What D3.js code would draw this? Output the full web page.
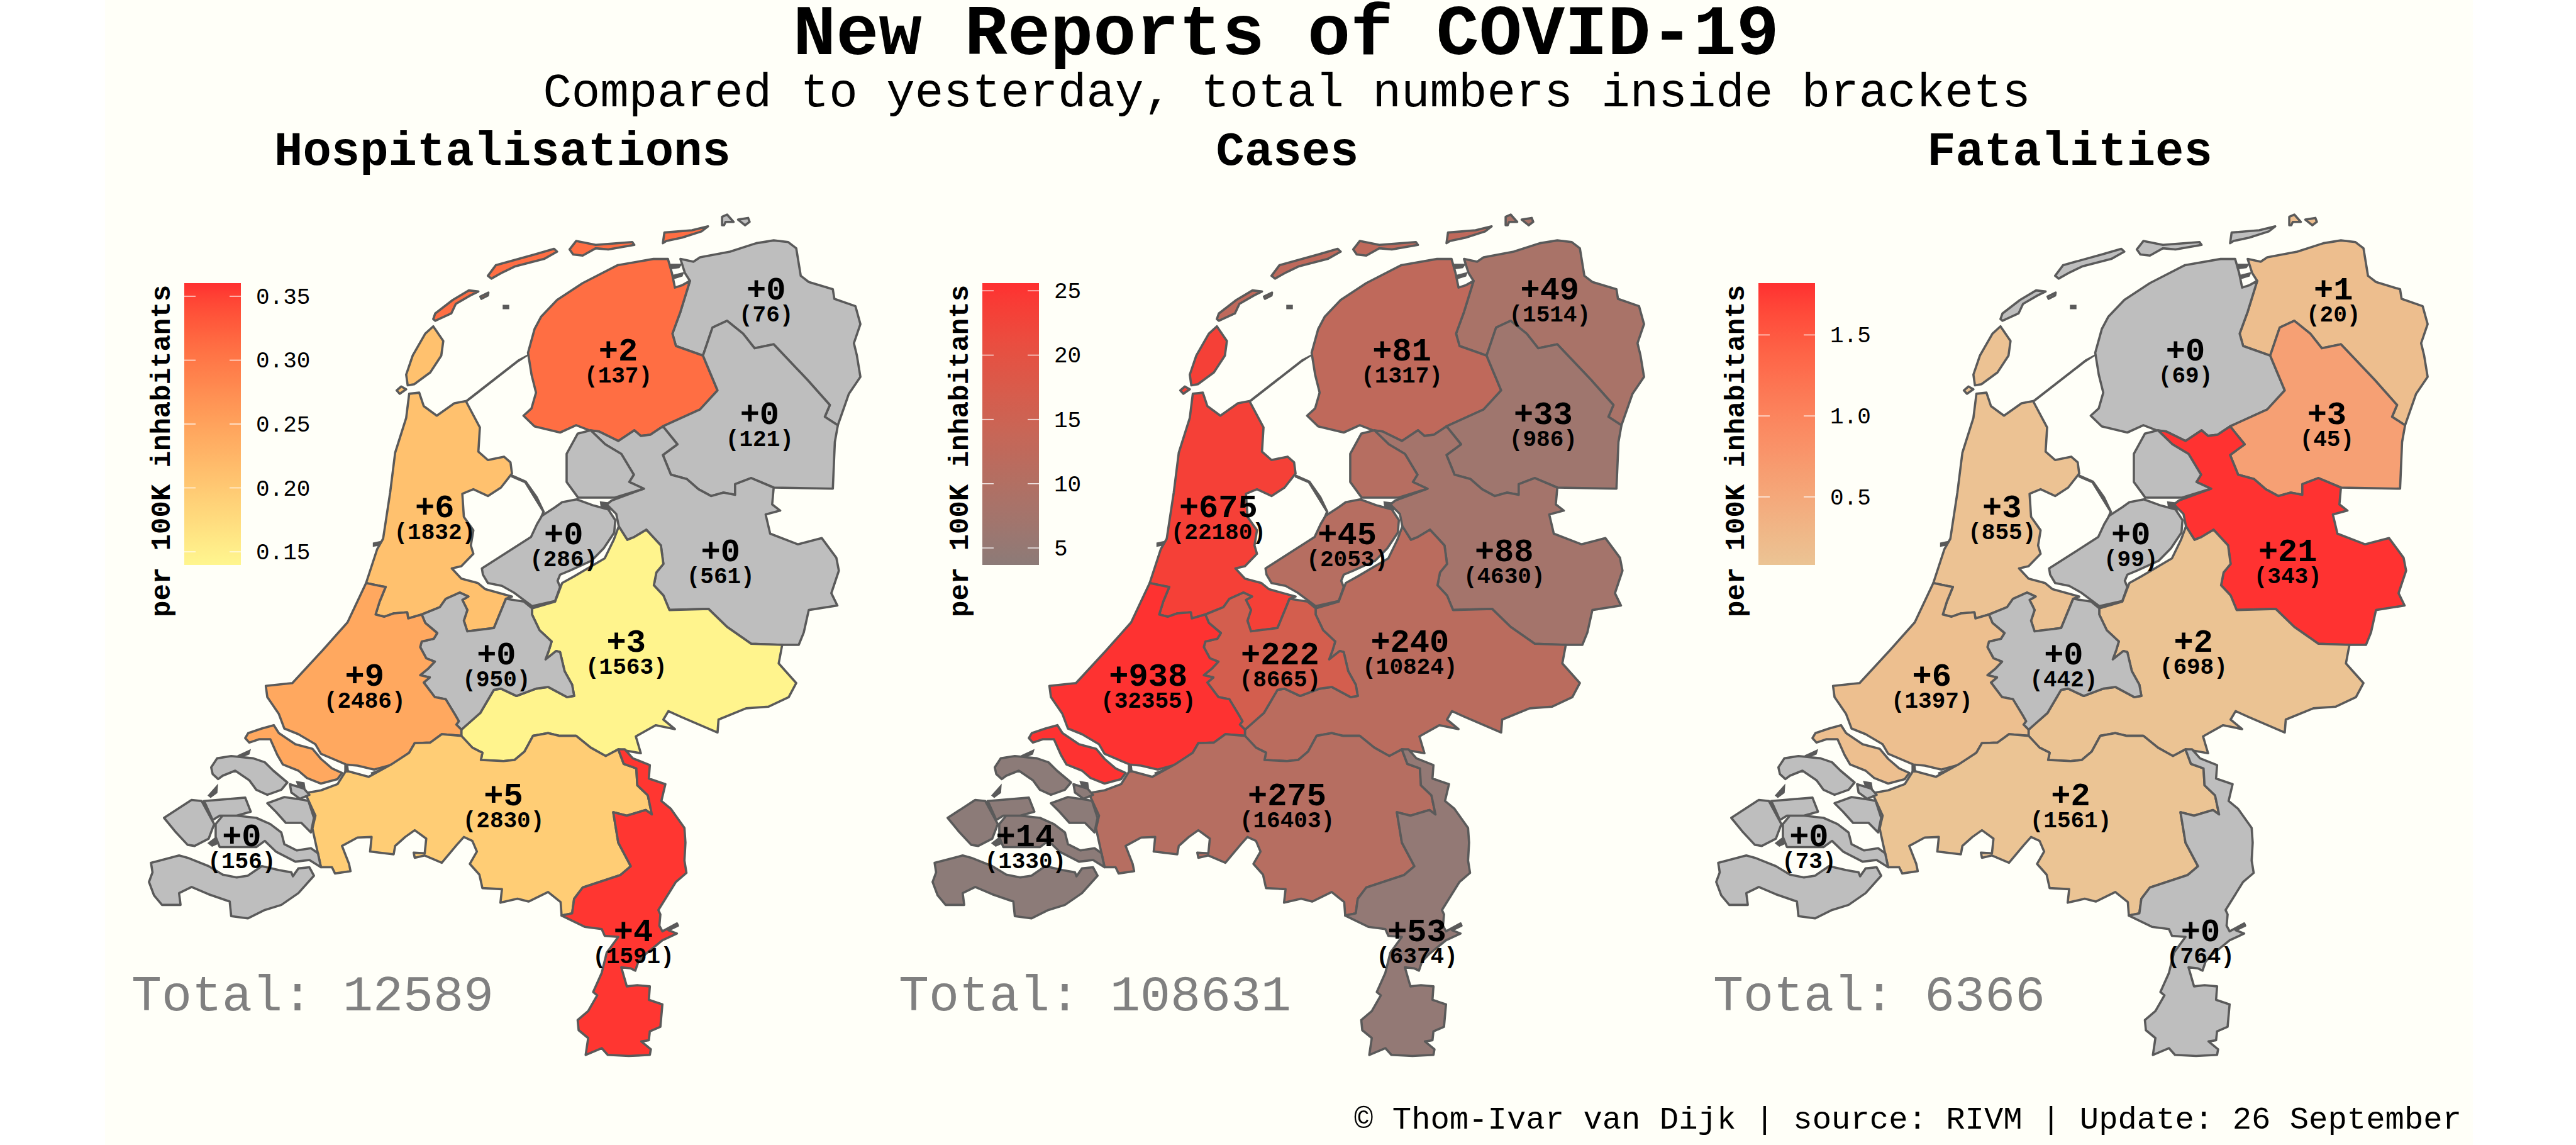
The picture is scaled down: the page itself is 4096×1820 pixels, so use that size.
<!DOCTYPE html>
<html>
<head>
<meta charset="utf-8">
<script src="https://cdn.jsdelivr.net/npm/d3@7"></script>
<style>
  html, body { margin: 0; padding: 0; background: #fff; }
  text { font-family: "Liberation Mono", monospace; fill: #000; }
</style>
</head>
<body>
<svg id="chart" width="4096" height="1820"></svg>
<script>
// Data, same province order everywhere
const provinces = ['Groningen', 'Friesland', 'Drenthe', 'Overijssel', 'Flevoland', 'Noord-Holland',
  'Gelderland', 'Utrecht', 'Zuid-Holland', 'Noord-Brabant', 'Zeeland', 'Limburg'];

const hospNew = [0, 2, 0, 0, 0, 6, 3, 0, 9, 5, 0, 4];
const hospTotal = [76, 137, 121, 561, 286, 1832, 1563, 950, 2486, 2830, 156, 1591];
const hospRate = [0, 0.31, 0, 0, 0, 0.21, 0.143, 0, 0.243, 0.195, 0, 0.357];

const casesNew = [49, 81, 33, 88, 45, 675, 240, 222, 938, 275, 14, 53];
const casesTotal = [1514, 1317, 986, 4630, 2053, 22180, 10824, 8665, 32355, 16403, 1330, 6374];
const casesRate = [8.4, 12.5, 6.7, 7.6, 10.7, 23.4, 11.5, 16.4, 25.4, 10.7, 3.7, 4.7];

const fatalNew = [1, 0, 3, 21, 0, 3, 2, 0, 6, 2, 0, 0];
const fatalTotal = [20, 69, 45, 343, 99, 855, 698, 442, 1397, 1561, 73, 764];
const fatalRate = [0.17, 0, 0.61, 1.81, 0, 0.104, 0.096, 0, 0.16, 0.078, 0, 0];

const totals = [12589, 108631, 6366];
const panelTitles = ['Hospitalisations', 'Cases', 'Fatalities'];
const hospTicks = [0.15, 0.20, 0.25, 0.30, 0.35];
const casesTicks = [5, 10, 15, 20, 25];
const fatalTicks = [0.5, 1.0, 1.5];

// Province outlines in traced map units, shared borders kept as chains
const bFrGr = [[1214, 297], [1160, 280], [1153, 258], [1169, 219], [1188, 164], [1172, 172], [1158, 176], [1152, 150], [1144, 125]];
const bGrDr = [[1214, 297], [1233, 247], [1262, 235], [1294, 258], [1317, 284], [1355, 277], [1422, 340], [1467, 385], [1457, 406], [1483, 421]];
const bFrDr = [[1134, 423], [1208, 393], [1243, 359], [1220, 310], [1214, 297]];
const bFrOv = [[1006, 432], [1045, 449], [1077, 430], [1090, 440], [1109, 438], [1134, 423]];
const bDrOv = [[1134, 423], [1163, 455], [1134, 474], [1150, 509], [1182, 517], [1205, 535], [1230, 547], [1255, 541], [1278, 545], [1278, 526], [1310, 515], [1355, 532]];
const bNopOv = [[990, 430], [1019, 455], [1051, 472], [1076, 509], [1067, 522], [1096, 534]];
const bOvGe = [[1046, 601], [1063, 625], [1077, 620], [1101, 607], [1130, 635], [1135, 668], [1121, 683], [1116, 706], [1135, 724], [1147, 750], [1225, 748], [1262, 780], [1310, 810], [1372, 812]];
const bUtGe = [[873, 747], [873, 758], [888, 786], [912, 806], [907, 821], [900, 838], [921, 823], [929, 825], [938, 859], [953, 883], [957, 903], [943, 905], [905, 887], [881, 890], [842, 903], [811, 890], [797, 892], [770, 933], [746, 952], [732, 963]];
const bNhUt = [[821, 730], [797, 782], [744, 788], [737, 769], [744, 750], [734, 732], [746, 726], [729, 719], [701, 730], [689, 745], [653, 758]];
const bNhZh = [[653, 758], [626, 765], [624, 754], [597, 756], [578, 762], [561, 758], [569, 735], [581, 709], [569, 707], [542, 702]];
const bZhUt = [[653, 758], [660, 773], [684, 791], [677, 801], [653, 806], [650, 816], [662, 836], [679, 842], [665, 855], [650, 866], [669, 870], [657, 879], [679, 905], [701, 909], [720, 937], [727, 948], [722, 954], [732, 963]];
const bNbGe = [[732, 974], [754, 995], [774, 1004], [771, 1017], [816, 1019], [838, 1017], [858, 1002], [875, 974], [905, 969], [928, 974], [961, 974], [990, 995], [1020, 1010], [1045, 998]];
const bNbLi = [[1045, 998], [1056, 1024], [1081, 1032], [1083, 1062], [1104, 1080], [1112, 1114], [1100, 1106], [1062, 1116], [1035, 1110], [1045, 1164], [1070, 1206], [1049, 1222], [974, 1244], [957, 1264], [953, 1290], [932, 1294]];
const rev = chain => chain.slice().reverse();

const outlines = {
  Groningen: [
    [[1169, 125], [1195, 130], [1208, 122], [1268, 112], [1320, 97], [1355, 92], [1384, 95], [1400, 106], [1409, 155], [1425, 166], [1473, 179], [1476, 196], [1518, 209], [1528, 241], [1515, 275], [1521, 297], [1528, 335], [1505, 365], [1483, 421],
      ...rev(bGrDr), [1160, 280], [1153, 258], [1169, 219], [1188, 164], [1178, 150]],
    [[1252, 65], [1252, 50], [1262, 46], [1275, 59], [1259, 59], [1256, 65]],
    [[1284, 55], [1304, 52], [1307, 59], [1298, 65]]
  ],
  Friesland: [
    [[1144, 125], [1115, 125], [1044, 136], [974, 168], [923, 198], [891, 228], [878, 250], [865, 292], [872, 331], [881, 363], [872, 391], [856, 404], [878, 423], [929, 434], [961, 421], [987, 430], [1006, 432],
      ...bFrOv, ...bFrDr, ...bFrGr],
    [[676, 232], [680, 222], [715, 198], [747, 181], [766, 183], [750, 190], [721, 205], [712, 222], [680, 235]],
    [[770, 192], [786, 185], [785, 190], [772, 196]],
    [[785, 155], [801, 136], [878, 117], [917, 107], [923, 112], [897, 125], [840, 138], [814, 149], [792, 160]],
    [[948, 108], [961, 93], [1000, 100], [1073, 95], [1077, 100], [1025, 108], [1000, 106], [974, 119], [955, 117]],
    [[1134, 97], [1137, 78], [1192, 74], [1224, 67], [1211, 76], [1172, 87], [1141, 93]]
  ],
  Drenthe: [
    [...bFrDr, ...bGrDr, [1477, 451], [1473, 534], [1355, 532], ...rev(bDrOv)]
  ],
  Overijssel: [
    [...bFrOv, ...bDrOv, [1352, 562], [1368, 573], [1339, 580], [1348, 614], [1403, 633], [1451, 622], [1480, 657], [1485, 680], [1470, 720], [1482, 742], [1425, 750], [1415, 790], [1405, 812], [1372, 812],
      ...rev(bOvGe), [1041, 579], [1022, 562], [1032, 555], ...rev(bNopOv)]
  ],
  Flevoland: [
    [[773, 676], [871, 620], [883, 597], [893, 582], [919, 567], [933, 558], [962, 553], [996, 564], [1025, 571], [1039, 590], [1037, 612], [1016, 640], [992, 662], [948, 680], [929, 687], [924, 698], [929, 709], [919, 734], [873, 743], [837, 719], [813, 707], [785, 702], [775, 687]],
    [[964, 436], ...bNopOv, [1038, 550], [965, 550], [942, 522], [942, 472]]
  ],
  'Noord-Holland': [
    [[628, 365], [648, 363], [657, 387], [683, 404], [718, 382], [741, 378], [769, 425], [766, 468], [785, 483], [817, 477], [830, 487], [833, 507], [811, 532], [785, 547], [756, 535], [734, 543], [737, 584], [756, 608], [751, 635], [756, 650], [732, 672], [713, 676], [732, 694], [765, 702], [780, 713], [833, 726],
      ...bNhUt, ...bNhZh, [564, 642], [576, 623], [590, 541], [600, 470], [622, 408]],
    [[676, 245], [696, 271], [692, 297], [670, 327], [638, 348], [625, 350], [622, 331], [635, 297], [660, 258]],
    [[603, 359], [612, 352], [622, 357], [609, 365]]
  ],
  Gelderland: [
    [[732, 963], ...rev(bUtGe), [919, 735], [933, 702], [957, 690], [1018, 658], [1036, 625], ...bOvGe, [1365, 845], [1400, 880], [1385, 905], [1345, 922], [1300, 925], [1245, 945], [1243, 968], [1170, 940], [1145, 930], [1135, 945], [1158, 962], [1120, 955], [1080, 975], [1090, 1005], ...rev(bNbGe)]
  ],
  Utrecht: [
    [...bNhUt, ...bZhUt, ...rev(bUtGe), [857, 735]]
  ],
  'Zuid-Holland': [
    [...rev(bNhZh), ...bZhUt, [732, 974], [693, 971], [670, 986], [639, 987], [628, 1004], [595, 1025], [558, 1034], [525, 1027], [502, 1025], [452, 1006], [441, 989], [407, 971], [379, 961], [368, 935], [345, 905], [342, 885], [395, 880], [455, 822], [505, 772]],
    [[301, 978], [307, 969], [334, 961], [358, 955], [368, 969], [401, 989], [435, 997], [452, 1015], [474, 1032], [494, 1040], [485, 1051], [452, 1059], [424, 1049], [407, 1036], [376, 1025], [365, 1008], [351, 980], [329, 980], [309, 986]]
  ],
  'Noord-Brabant': [
    [[427, 1075], [452, 1071], [485, 1060], [502, 1036], [547, 1047], [592, 1025], [628, 1004], [639, 987], [670, 986], [693, 971], ...bNbGe, ...bNbLi, [930, 1270], [905, 1252], [866, 1269], [844, 1264], [810, 1271], [813, 1247], [774, 1245], [768, 1221], [749, 1202], [763, 1180], [754, 1161], [737, 1154], [723, 1168], [693, 1200], [659, 1187], [639, 1191], [637, 1182], [659, 1183], [662, 1157], [639, 1142], [620, 1154], [600, 1170], [597, 1185], [550, 1180], [553, 1154], [525, 1155], [494, 1170], [508, 1202], [511, 1215], [480, 1219], [474, 1208], [452, 1208], [435, 1139], [441, 1116], [424, 1083]]
  ],
  Zeeland: [
    [[233, 1030], [245, 1014], [273, 1010], [317, 1014], [340, 1021], [357, 1036], [385, 1057], [373, 1070], [345, 1079], [323, 1070], [309, 1053], [281, 1036], [256, 1045], [247, 1051], [236, 1042]],
    [[390, 1060], [418, 1068], [429, 1079], [410, 1086], [393, 1075]],
    [[345, 1094], [379, 1083], [418, 1088], [427, 1090], [438, 1120], [432, 1146], [413, 1129], [382, 1129], [362, 1109]],
    [[139, 1120], [194, 1088], [214, 1090], [239, 1131], [228, 1157], [200, 1170], [186, 1168], [161, 1144]],
    [[219, 1090], [301, 1084], [312, 1109], [284, 1116], [250, 1116], [236, 1124]],
    [[242, 1131], [256, 1116], [284, 1116], [323, 1120], [351, 1131], [373, 1146], [379, 1167], [404, 1178], [432, 1174], [446, 1183], [452, 1208], [429, 1195], [401, 1198], [362, 1180], [340, 1161], [323, 1172], [250, 1172], [242, 1154]],
    [[113, 1200], [169, 1187], [186, 1191], [228, 1206], [256, 1221], [284, 1226], [306, 1223], [334, 1206], [368, 1213], [393, 1217], [396, 1224], [407, 1210], [429, 1208], [438, 1223], [407, 1254], [373, 1275], [340, 1284], [306, 1299], [273, 1295], [270, 1269], [228, 1256], [194, 1243], [169, 1254], [172, 1275], [135, 1275], [119, 1258], [109, 1234], [116, 1217]]
  ],
  Limburg: [
    [...bNbLi.slice(0, 1), [1058, 998], [1074, 1014], [1108, 1026], [1106, 1050], [1139, 1060], [1131, 1090], [1150, 1104], [1177, 1138], [1179, 1164], [1177, 1196], [1181, 1218], [1160, 1234], [1125, 1284], [1129, 1292], [1127, 1312], [1133, 1322], [1162, 1308], [1164, 1312], [1145, 1320], [1162, 1326], [1133, 1338], [1100, 1362], [1085, 1376], [1079, 1392], [1070, 1388], [1051, 1386], [1062, 1420], [1083, 1418], [1108, 1420], [1106, 1444], [1133, 1452], [1129, 1492], [1108, 1500], [1106, 1516], [1091, 1518], [1110, 1532], [1108, 1542], [1066, 1544], [1024, 1542], [1012, 1530], [980, 1542], [985, 1512], [966, 1498], [964, 1480], [985, 1464], [1003, 1436], [995, 1430], [1012, 1396], [1022, 1360], [1045, 1332], [1018, 1330], [1012, 1318], [978, 1314], ...rev(bNbLi)]
  ]
};

// Dikes and tiny sand banks that show up as dark slivers only
const slivers = [
  [[741, 378], [846, 305], [865, 296], [846, 307], [741, 380]],
  [[833, 510], [861, 521], [883, 549], [897, 575], [885, 597], [895, 575], [859, 523], [833, 513]],
  [[557, 631], [583, 626], [583, 632], [557, 636]],
  [[228, 1080], [245, 1063], [244, 1075], [232, 1083]],
  [[228, 1165], [247, 1152], [247, 1165], [235, 1170]],
  [[553, 1040], [592, 1027], [592, 1031], [555, 1045]],
  [[500, 1027], [505, 1027], [507, 1042], [500, 1042]],
  [[404, 1056], [418, 1058], [420, 1070], [408, 1066]],
  [[288, 1009], [310, 1000], [308, 1006], [292, 1012]],
  [[816, 208], [826, 208], [826, 213], [816, 213]],
  [[1010, 558], [1030, 560], [1028, 572], [1012, 570]],
  [[1150, 135], [1170, 135], [1166, 140], [1150, 142]],
  [[1152, 155], [1174, 150], [1172, 155], [1154, 160]]
];

// Where each label pair sits, traced map units
const labelX = [1340, 1045, 1327, 1249, 936, 679, 1061, 802, 539, 816, 294, 1075];
const labelY = [178, 287, 400, 644, 614, 566, 805, 828, 866, 1079, 1151, 1321];

const svg = d3.select('#chart');
const defs = svg.append('defs');
const strokeColor = '#5a5a5a';
const noValueColor = '#bebebe';

svg.append('rect').attr('x', 167).attr('y', 0).attr('width', 3765).attr('height', 1820).attr('fill', '#fffff8');

svg.append('text').attr('x', 2045).attr('y', 86).attr('text-anchor', 'middle')
  .style('font-size', '113.6px').style('font-weight', 'bold').text('New Reports of COVID-19');
svg.append('text').attr('x', 2046).attr('y', 169).attr('text-anchor', 'middle')
  .style('font-size', '75.8px').text('Compared to yesterday, total numbers inside brackets');
svg.append('text').attr('x', 3914).attr('y', 1794).attr('text-anchor', 'end')
  .style('font-size', '50.6px').text('© Thom-Ivar van Dijk | source: RIVM | Update: 26 September');

const panels = [
  { title: panelTitles[0], titleX: 799, dx: 0, news: hospNew, sums: hospTotal, rates: hospRate, total: totals[0], ticks: hospTicks,
    fmt: d3.format('.2f'), low: '#fff68f', domain: [0.1397, 0.3603], barX: 293, nameX: 270, totalX: 209 },
  { title: panelTitles[1], titleX: 2047, dx: 1246, news: casesNew, sums: casesTotal, rates: casesRate, total: totals[1], ticks: casesTicks,
    fmt: d3.format('d'), low: '#8c7b78', domain: [3.68, 25.6], barX: 1562, nameX: 1539, totalX: 1429 },
  { title: panelTitles[2], titleX: 3291, dx: 2492, news: fatalNew, sums: fatalTotal, rates: fatalRate, total: totals[2], ticks: fatalTicks,
    fmt: d3.format('.1f'), low: '#ebc494', domain: [0.08, 1.82], barX: 2796, nameX: 2773, totalX: 2724 }
];

const close = ring => [...ring, ring[0]];
const shape = name => ({ type: 'MultiPolygon', coordinates: outlines[name].map(r => [close(r)]) });

panels.forEach((p, pi) => {
  const x = d3.scaleLinear().domain([0, 1568]).range([150 + p.dx, 1400 + p.dx]);
  const y = d3.scaleLinear().domain([0, 1568]).range([300, 1700]);
  const path = d3.geoPath(d3.geoTransform({
    point(px, py) { this.stream.point(x(px), y(py)); }
  }));
  const color = d3.scaleLinear().domain(p.domain).range([p.low, '#ff3030'])
    .interpolate(d3.interpolateLab).clamp(true);

  svg.append('text').attr('x', p.titleX).attr('y', 262).attr('text-anchor', 'middle')
    .style('font-size', '75.6px').style('font-weight', 'bold').text(p.title);

  const g = svg.append('g');

  g.selectAll('path.sliver')
    .data(slivers)
    .enter()
    .append('path')
    .attr('class', 'sliver')
    .attr('d', d => path({ type: 'Polygon', coordinates: [close(d)] }))
    .attr('fill', strokeColor)
    .attr('stroke', strokeColor)
    .attr('stroke-width', 2.5);

  g.selectAll('path.province')
    .data(provinces)
    .enter()
    .append('path')
    .attr('class', 'province')
    .attr('d', d => path(shape(d)))
    .attr('fill', (d, i) => p.news[i] === 0 ? noValueColor : color(p.rates[i]))
    .attr('stroke', strokeColor)
    .attr('stroke-width', 3.6)
    .attr('stroke-linejoin', 'round');

  // Legend bar
  const barY = d3.scaleLinear().domain(p.domain).range([898, 450]);
  const grad = defs.append('linearGradient').attr('id', 'grad' + pi)
    .attr('x1', 0).attr('x2', 0).attr('y1', 1).attr('y2', 0);
  d3.range(0, 1.01, 0.05).forEach(t => {
    grad.append('stop').attr('offset', t)
      .attr('stop-color', color(p.domain[0] + t * (p.domain[1] - p.domain[0])));
  });
  svg.append('rect').attr('x', p.barX).attr('y', 450).attr('width', 90).attr('height', 448)
    .attr('fill', `url(#grad${pi})`);

  const marks = svg.append('g');
  p.ticks.forEach(t => {
    [[p.barX, p.barX + 18], [p.barX + 72, p.barX + 90]].forEach(([a, b]) => {
      marks.append('line').attr('x1', a).attr('x2', b).attr('y1', barY(t)).attr('y2', barY(t))
        .attr('stroke', '#ffffff').attr('stroke-width', 1.5).attr('opacity', 0.85);
    });
  });

  const axis = svg.append('g')
    .attr('transform', `translate(${p.barX + 90},0)`)
    .call(d3.axisRight(barY).tickValues(p.ticks).tickSize(0).tickPadding(24).tickFormat(p.fmt));
  axis.select('.domain').remove();
  axis.selectAll('text')
    .style('font-family', '"Liberation Mono", monospace')
    .style('font-size', '36px')
    .attr('fill', '#000');

  svg.append('text')
    .attr('transform', `translate(${p.nameX},981) rotate(-90)`)
    .style('font-size', '44px').style('font-weight', 'bold').text('per 100K inhabitants');

  // Labels
  const labels = svg.append('g').selectAll('g')
    .data(provinces)
    .enter()
    .append('g');
  labels.append('text')
    .attr('x', (d, i) => x(labelX[i]))
    .attr('y', (d, i) => y(labelY[i]) + 17)
    .attr('text-anchor', 'middle')
    .style('font-size', '52px').style('font-weight', 'bold')
    .text((d, i) => '+' + p.news[i]);
  labels.append('text')
    .attr('x', (d, i) => x(labelX[i]))
    .attr('y', (d, i) => y(labelY[i]) + 52)
    .attr('text-anchor', 'middle')
    .style('font-size', '36px').style('font-weight', 'bold')
    .text((d, i) => '(' + p.sums[i] + ')');

  svg.append('text').attr('x', p.totalX).attr('y', 1606)
    .style('font-size', '80px').style('fill', '#808080').text('Total: ' + p.total);
});
</script>
</body>
</html>
